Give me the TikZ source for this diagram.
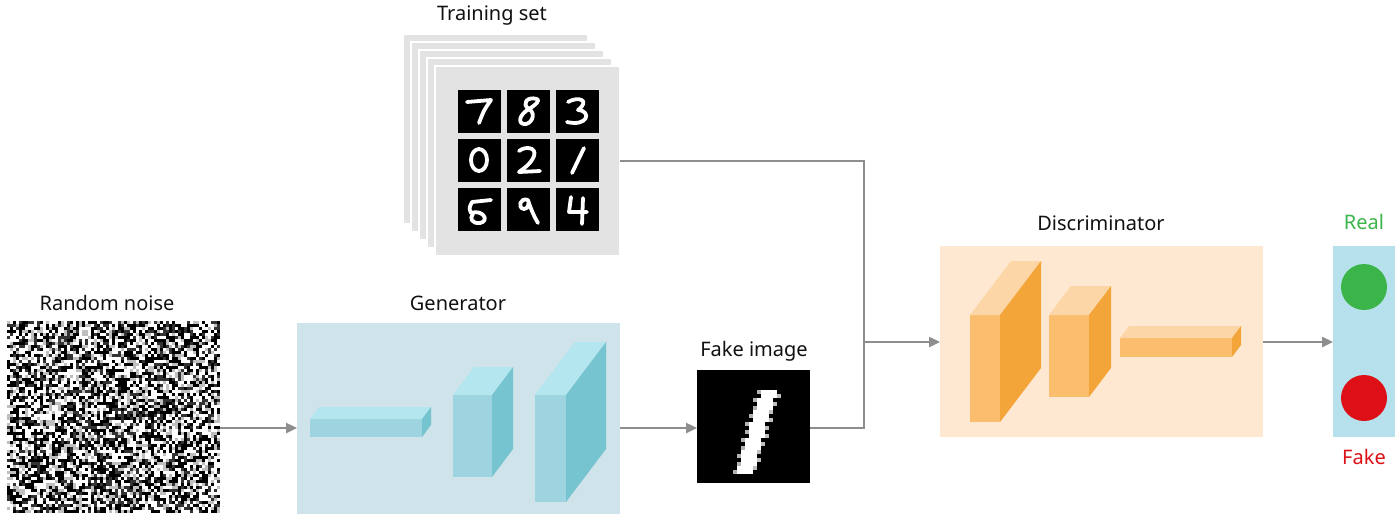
\documentclass[tikz,border=0pt]{standalone}
\usepackage{fontspec}
\setmainfont{Noto Sans}
\usetikzlibrary{arrows.meta}
\definecolor{arrowgray}{HTML}{8E8E8E}
\definecolor{sheetgray}{HTML}{E3E3E3}
\definecolor{genbg}{HTML}{CFE3EA}
\definecolor{discbg}{HTML}{FFE8D1}
\definecolor{outbg}{HTML}{B6E1EC}
\definecolor{gfront}{HTML}{9ED4DF}
\definecolor{gtop}{HTML}{B3E6EF}
\definecolor{gside}{HTML}{76C4D0}
\definecolor{dfront}{HTML}{FBBD6E}
\definecolor{dtop}{HTML}{FDD6A7}
\definecolor{dside}{HTML}{F4A53A}
\definecolor{realgreen}{HTML}{3BB54A}
\definecolor{fakered}{HTML}{DC1016}
\definecolor{txt}{HTML}{111111}
\newcommand\cubeblock[9]{%
  \fill[#7] (#1,#2) rectangle (#3,#4);
  \fill[#8] (#1,#2) -- (#3,#2) -- ({#3+#5},{#2+#6}) -- ({#1+#5},{#2+#6}) -- cycle;
  \fill[#9] (#3,#2) -- ({#3+#5},{#2+#6}) -- ({#3+#5},{#4+#6}) -- (#3,#4) -- cycle;
}
\begin{document}
\begin{tikzpicture}[x=1pt,y=-1pt,
  lbl/.style={font=\fontsize{20}{23}\selectfont, text=txt, inner sep=0pt},
  box/.style={anchor=north west, inner sep=0pt, outer sep=0pt},
  sheet/.style={box, fill=sheetgray, draw=white, line width=1.6pt, minimum width=185pt, minimum height=190pt},
  ln/.style={draw=arrowgray, line width=2.4pt},
  arr/.style={ln, -{Triangle[length=11pt,width=10pt]}},
  dig/.style={draw=white, line width=3.8pt, line cap=round, line join=round},
  cell/.style={box, fill=black, minimum width=43pt, minimum height=43pt}]
\useasboundingbox (0,0) rectangle (1400,520);
\fill[white] (0,0) rectangle (1400,520);

% ---------- Training set ----------
\node[lbl] (tstitle) at (492,16) {Training set};
\node[sheet] (s1) at (403,34) {};
\node[sheet] (s2) at (411,42) {};
\node[sheet] (s3) at (419,50) {};
\node[sheet] (s4) at (427,58) {};
\node[sheet] (ts) at (435,66) {};
\foreach \c/\x in {0/458,1/507,2/556}{
  \foreach \r/\y in {0/90,1/139,2/188}{
    \node[cell] (c\c\r) at (\x,\y) {};
  }
}
% 7
\begin{scope}[shift={(458,90)}]
  \draw[dig] (9,12) -- (33,10) .. controls (26,20) .. (21,33);
\end{scope}
% 8
\begin{scope}[shift={(507,90)}]
  \draw[dig] (30,9) .. controls (20,6) and (14,14) .. (22,19) .. controls (30,24) and (24,35) .. (17,34)
    .. controls (10,33) and (13,24) .. (22,19) .. controls (30,14) and (33,10) .. (30,9);
\end{scope}
% 3
\begin{scope}[shift={(556,90)}]
  \draw[dig] (12,12) .. controls (22,6) and (35,10) .. (22,20) .. controls (36,21) and (32,37) .. (11,32);
\end{scope}
% 0
\begin{scope}[shift={(458,139)}]
  \draw[dig] (21,21) ellipse (8 and 11);
\end{scope}
% 2
\begin{scope}[shift={(507,139)}]
  \draw[dig] (12,12) .. controls (18,7) and (30,8) .. (27,17) .. controls (24,25) and (16,30) .. (12,33) -- (33,32);
\end{scope}
% 1
\begin{scope}[shift={(556,139)}]
  \draw[dig] (28,9) -- (16,34);
\end{scope}
% 5
\begin{scope}[shift={(458,188)}]
  \draw[dig] (33,12) -- (14,14) .. controls (11,20) .. (13,25) .. controls (25,21) and (32,33) .. (22,35)
    .. controls (14,36) and (11,30) .. (15,26);
\end{scope}
% 9
\begin{scope}[shift={(507,188)}]
  \draw[dig] (21,12) .. controls (13,9) and (10,20) .. (17,21) .. controls (22,21) and (22,14) .. (21,12)
    .. controls (24,22) and (28,30) .. (31,35);
\end{scope}
% 4
\begin{scope}[shift={(556,188)}]
  \draw[dig] (15,9) -- (13,24) -- (31,24);
  \draw[dig] (27,10) -- (26,36);
\end{scope}

% ---------- Random noise ----------
\node[lbl] (noisetitle) at (107,303) {Random noise};
\node[box, fill=white, minimum width=213pt, minimum height=192pt] (noise) at (7,321) {};
\pgfmathsetseed{4711}
\foreach \i in {0,...,70}{
  \foreach \j in {0,...,63}{
    \pgfmathrandominteger{\rn}{0}{5}
    \ifcase\rn
      \fill[black] ({7+3*\i},{321+3*\j}) rectangle ++(3,3);
    \or
      \fill[black] ({7+3*\i},{321+3*\j}) rectangle ++(3,3);
    \or
      \fill[gray!40!black] ({7+3*\i},{321+3*\j}) rectangle ++(3,3);
    \or
      \fill[gray!50] ({7+3*\i},{321+3*\j}) rectangle ++(3,3);
    \else
    \fi
  }
}

% ---------- Generator ----------
\node[lbl] (gentitle) at (458,303) {Generator};
\node[box, fill=genbg, minimum width=323pt, minimum height=191pt] (gen) at (297,323) {};
\cubeblock{310}{419}{422}{437}{9}{-12}{gfront}{gtop}{gside}
\cubeblock{453}{395}{492}{477}{21}{-28}{gfront}{gtop}{gside}
\cubeblock{535}{395}{566}{502}{40}{-53}{gfront}{gtop}{gside}

% ---------- Fake image ----------
\node[lbl] (faketitle) at (754,351) {Fake image};
\node[box, fill=black, minimum width=113pt, minimum height=113pt] (fake) at (697,370) {};
\foreach \r in {5,...,25}{
  \pgfmathtruncatemacro\lc{15.8-0.29*(\r-5)+0.5}
  \pgfmathtruncatemacro\odd{mod(\r,2)}
  \fill[white] ({697+4*\lc},{370+4*\r}) rectangle ++(16,4);
  \ifnum\odd=1
    \fill[gray!60] ({697+4*\lc-4},{370+4*\r}) rectangle ++(4,4);
  \else
    \fill[gray!50] ({697+4*\lc+16},{370+4*\r}) rectangle ++(4,4);
  \fi
}

% ---------- Discriminator ----------
\node[lbl] (disctitle) at (1101,223) {Discriminator};
\node[box, fill=discbg, minimum width=323pt, minimum height=191pt] (disc) at (940,246) {};
\cubeblock{970}{315}{1000}{422}{41}{-54}{dfront}{dtop}{dside}
\cubeblock{1049}{315}{1089}{397}{22}{-29}{dfront}{dtop}{dside}
\cubeblock{1120}{338}{1232}{357}{9}{-12}{dfront}{dtop}{dside}

% ---------- Output ----------
\node[box, fill=outbg, minimum width=62pt, minimum height=191pt] (out) at (1333,246) {};
\node[circle, fill=realgreen, minimum size=46pt, inner sep=0pt] (realc) at (1364,287) {};
\node[circle, fill=fakered, minimum size=46pt, inner sep=0pt] (fakec) at (1364,398) {};
\node[lbl, text=realgreen, font=\fontsize{20}{23}\selectfont\bfseries] (reallbl) at (1364,222) {Real};
\node[lbl, text=fakered, font=\fontsize{20}{23}\selectfont\bfseries] (fakelbl) at (1364,457) {Fake};

% ---------- Connectors ----------
\coordinate (lowrow) at (0,428);
\coordinate (m) at (864,342);
\draw[arr] (noise.east |- lowrow) -- (gen.west |- lowrow);
\draw[arr] (gen.east |- lowrow) -- (fake.west |- lowrow);
\draw[ln] (ts.east) -| (m);
\draw[ln] (fake.east |- lowrow) -| (m);
\draw[arr] (m) -- (disc.west |- m);
\draw[arr] (disc.east |- m) -- (out.west |- m);
\end{tikzpicture}
\end{document}
